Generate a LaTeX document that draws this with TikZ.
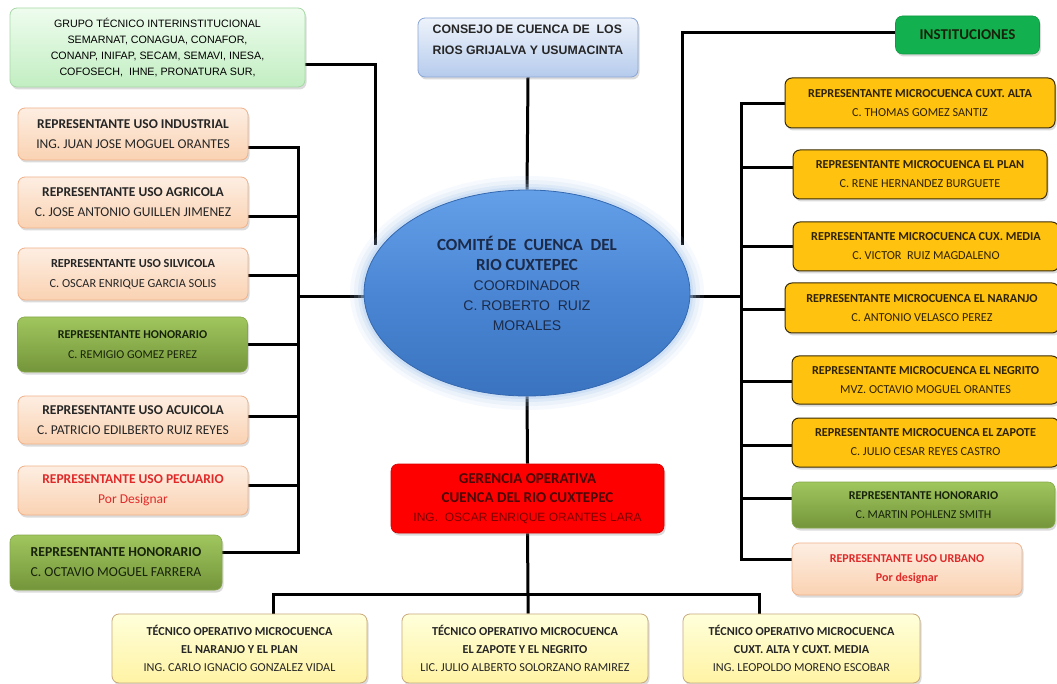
\documentclass[tikz,border=0pt]{standalone}
\usepackage{fontspec}
\setmainfont{Carlito}
\newfontfamily\arial{Liberation Sans}
\usetikzlibrary{shadows,shapes.geometric,calc}
\pgfdeclarelayer{back}
\pgfdeclarelayer{bg}
\pgfsetlayers{back,bg,main}
\definecolor{peachT}{HTML}{FDEEE2}
\definecolor{peachB}{HTML}{FAD2B2}
\definecolor{peachD}{HTML}{F0B28A}
\definecolor{yel}{HTML}{FFC20E}
\definecolor{yelD}{HTML}{3A2C05}
\definecolor{yelTx}{HTML}{2E2306}
\definecolor{olT}{HTML}{A0C65E}
\definecolor{olB}{HTML}{74953A}
\definecolor{olD}{HTML}{86A84A}
\definecolor{olTx}{HTML}{17230A}
\definecolor{instG}{HTML}{12B04E}
\definecolor{instD}{HTML}{0E9A42}
\definecolor{grT}{HTML}{EEFCEE}
\definecolor{grB}{HTML}{C2EEC2}
\definecolor{grD}{HTML}{A8D8A8}
\definecolor{blT}{HTML}{EEF3FB}
\definecolor{blB}{HTML}{B5CBEC}
\definecolor{blD}{HTML}{8AA6D6}
\definecolor{lyT}{HTML}{FFFFDA}
\definecolor{lyB}{HTML}{FFF3A4}
\definecolor{lyD}{HTML}{C9A97C}
\definecolor{redTx}{HTML}{E02A2A}
\definecolor{txt}{HTML}{262626}
\definecolor{ellT}{HTML}{64A0E8}
\definecolor{ellM}{HTML}{4A86D4}
\definecolor{ellB}{HTML}{3A74C0}
\definecolor{ellD}{HTML}{3468B0}
\definecolor{ellG}{HTML}{A9C8EE}
\definecolor{ellTx}{HTML}{1C2B4A}
\definecolor{gerTx}{HTML}{4A0808}
\definecolor{gerTx2}{HTML}{7A0000}
\newcommand\ellA{\bfseries\fontsize{17}{20}\selectfont}
\newcommand\ellB{\arial\fontsize{14}{20}\selectfont}
\newcommand\gerA{\bfseries\fontsize{15}{19}\selectfont}
\newcommand\gerB{\arial\fontsize{12}{19}\selectfont\color{gerTx2}}
\begin{document}
\begin{tikzpicture}[x=1pt,y=-1pt,
  conn/.style={line width=3pt,black,line join=miter},
  box/.style={rounded corners=7pt,inner sep=0pt,align=center,
    drop shadow={shadow xshift=1.5pt,shadow yshift=-2.5pt,opacity=0.28}},
  peach/.style={box,top color=peachT,bottom color=peachB,draw=peachD,line width=0.8pt,
    text=txt,font=\fontsize{13.5}{20}\selectfont,minimum width=230pt},
  yellowbox/.style={box,fill=yel,draw=yelD,line width=1pt,text=yelTx,
    font=\fontsize{12.2}{19}\selectfont},
  olive/.style={box,top color=olT,bottom color=olB,draw=olD,line width=0.6pt,text=olTx},
  lightyel/.style={box,top color=lyT,bottom color=lyB,draw=lyD,line width=0.8pt,
    text=txt,font=\fontsize{12.2}{18}\selectfont,minimum height=69pt},
]
\begin{pgfonlayer}{back}
\fill[white] (0,0) rectangle (1057,684);
\end{pgfonlayer}
\useasboundingbox (0,0) rectangle (1057,684);

% ---------- top boxes
\node[box,top color=grT,bottom color=grB,draw=grD,line width=0.8pt,
  minimum width=295pt,minimum height=79pt,font=\arial\fontsize{10.7}{16}\selectfont]
  (grupo) at (157.5,47.5)
  {GRUPO TÉCNICO INTERINSTITUCIONAL\\SEMARNAT, CONAGUA, CONAFOR,\\
   CONANP, INIFAP, SECAM, SEMAVI, INESA,\\COFOSECH,\ \ IHNE, PRONATURA SUR,};
\node[box,top color=blT,bottom color=blB,draw=blD,line width=0.8pt,
  minimum width=220pt,minimum height=59pt,align=left,text=txt,
  font=\arial\bfseries\fontsize{12.3}{21}\selectfont]
  (cons) at (528,47.5) {CONSEJO DE CUENCA DE\ \ LOS\\RIOS GRIJALVA Y USUMACINTA\\[-6pt]\mbox{}};
\node[box,fill=instG,draw=instD,line width=0.6pt,minimum width=144pt,minimum height=38pt,
  text=olTx,font=\bfseries\fontsize{15}{16}\selectfont]
  (inst) at (967.5,35) {INSTITUCIONES};

% ---------- ellipse
\foreach \s/\op in {14/0.10,10/0.14,6/0.2,3/0.3}
  \fill[ellG,opacity=\op] (527,293) ellipse [x radius=163+\s,y radius=103+\s];
\node[ellipse,minimum width=326pt,minimum height=206pt,inner sep=0pt,
  top color=ellT,bottom color=ellB,middle color=ellM,draw=ellD,line width=0.8pt,
  align=center,text=ellTx,font=\fontsize{14}{20}\selectfont] (ell) at (527,293)
  {\ellA COMITÉ DE\ \ CUENCA\ \ DEL\\\ellA RIO CUXTEPEC\\\ellB COORDINADOR\\\ellB C. ROBERTO\ \ RUIZ\\\ellB MORALES\\[0pt]\mbox{}};

% ---------- left column
\node[peach,minimum height=52pt] (ind) at (133,134)
  {\textbf{REPRESENTANTE USO INDUSTRIAL}\\ING. JUAN JOSE MOGUEL ORANTES};
\node[peach,minimum height=51pt] (agr) at (133,202.5)
  {\textbf{REPRESENTANTE USO AGRICOLA}\\C. JOSE ANTONIO GUILLEN JIMENEZ};
\node[peach,minimum height=52pt,font=\fontsize{12.3}{20}\selectfont] (sil) at (133,274)
  {\textbf{REPRESENTANTE USO SILVICOLA}\\C. OSCAR ENRIQUE GARCIA SOLIS};
\node[olive,minimum width=230pt,minimum height=55pt,font=\fontsize{12}{20}\selectfont]
  (hon1) at (132.5,344.5)
  {\textbf{REPRESENTANTE HONORARIO}\\C. REMIGIO GOMEZ PEREZ};
\node[peach,minimum height=48pt] (acu) at (133,420)
  {\textbf{REPRESENTANTE USO ACUICOLA}\\C. PATRICIO EDILBERTO RUIZ REYES};
\node[peach,minimum height=49pt,text=redTx] (pec) at (133,490.5)
  {\textbf{REPRESENTANTE USO PECUARIO}\\Por Designar};
\node[olive,minimum width=212pt,minimum height=55pt,font=\fontsize{13.7}{20}\selectfont]
  (hon2) at (116,562.5)
  {\textbf{REPRESENTANTE HONORARIO}\\C. OCTAVIO MOGUEL FARRERA};

% ---------- right column
\node[yellowbox,minimum width=270pt,minimum height=50pt] (alta) at (920,103)
  {\textbf{REPRESENTANTE MICROCUENCA CUXT. ALTA}\\C. THOMAS GOMEZ SANTIZ};
\node[yellowbox,minimum width=254pt,minimum height=49pt] (plan) at (920,174.5)
  {\textbf{REPRESENTANTE MICROCUENCA EL PLAN}\\C. RENE HERNANDEZ BURGUETE};
\node[yellowbox,minimum width=266pt,minimum height=49pt] (media) at (926,246.5)
  {\textbf{REPRESENTANTE MICROCUENCA CUX. MEDIA}\\C. VICTOR\ \ RUIZ MAGDALENO};
\node[yellowbox,minimum width=274pt,minimum height=50pt] (nar) at (922,308)
  {\textbf{REPRESENTANTE MICROCUENCA EL NARANJO}\\C. ANTONIO VELASCO PEREZ};
\node[yellowbox,minimum width=267pt,minimum height=48pt] (neg) at (925.5,380)
  {\textbf{REPRESENTANTE MICROCUENCA EL NEGRITO}\\MVZ. OCTAVIO MOGUEL ORANTES};
\node[yellowbox,minimum width=267pt,minimum height=49pt] (zap) at (925.5,442.5)
  {\textbf{REPRESENTANTE MICROCUENCA EL ZAPOTE}\\C. JULIO CESAR REYES CASTRO};
\node[olive,minimum width=263pt,minimum height=46pt,font=\fontsize{12}{19}\selectfont]
  (hon3) at (923.5,505)
  {\textbf{REPRESENTANTE HONORARIO}\\C. MARTIN POHLENZ SMITH};
\node[box,top color=peachT,bottom color=peachB,draw=peachD,line width=0.8pt,
  minimum width=230pt,minimum height=52pt,text=redTx,font=\fontsize{12}{19}\selectfont]
  (urb) at (907,569)
  {\textbf{REPRESENTANTE USO URBANO}\\\textbf{Por designar}};

% ---------- gerencia
\node[box,fill=red,draw=red!85!black,line width=0.6pt,minimum width=273pt,minimum height=69pt,
  text=gerTx,font=\fontsize{14}{19}\selectfont] (ger) at (527.5,498.5)
  {\gerA GERENCIA OPERATIVA\\\gerA CUENCA DEL RIO CUXTEPEC\\\gerB ING.\ \ OSCAR ENRIQUE ORANTES LARA};

% ---------- bottom
\node[lightyel,minimum width=255pt] (b1) at (239.5,648.5)
  {\textbf{TÉCNICO OPERATIVO MICROCUENCA}\\\textbf{EL NARANJO Y EL PLAN}\\ING. CARLO IGNACIO GONZALEZ VIDAL};
\node[lightyel,minimum width=246pt] (b2) at (525,648.5)
  {\textbf{TÉCNICO OPERATIVO MICROCUENCA}\\\textbf{EL ZAPOTE Y EL NEGRITO}\\LIC. JULIO ALBERTO SOLORZANO RAMIREZ};
\node[lightyel,minimum width=237pt] (b3) at (801.5,648.5)
  {\textbf{TÉCNICO OPERATIVO MICROCUENCA}\\\textbf{CUXT. ALTA Y CUXT. MEDIA}\\ING. LEOPOLDO MORENO ESCOBAR};

% ---------- connectors
\coordinate (lt1) at (298,148);
\coordinate (lt2) at (298,217);
\coordinate (lt3) at (298,276);
\coordinate (ltE) at (298,297);
\coordinate (lt4) at (298,345);
\coordinate (lt5) at (298,416);
\coordinate (lt6) at (298,485);
\coordinate (lt7) at (298,552);
\coordinate (rt1) at (741,104);
\coordinate (rt2) at (741,168);
\coordinate (rt3) at (741,247);
\coordinate (rtE) at (741,297);
\coordinate (rt4) at (741,310);
\coordinate (rt5) at (741,381);
\coordinate (rt6) at (741,445);
\coordinate (rt7) at (741,498);
\coordinate (rt8) at (741,559);
\coordinate (g1) at (375,65);
\coordinate (g2) at (375,245);
\coordinate (i1) at (682,33);
\coordinate (i2) at (682,245);
\coordinate (bl) at (273,594);
\coordinate (bm) at (528,594);
\coordinate (br) at (759,594);
\begin{pgfonlayer}{bg}
\draw[conn] (ind.east |- lt1) -- (lt1) -- (lt7) -- (hon2.east |- lt7);
\draw[conn] (agr.east |- lt2) -- (lt2);
\draw[conn] (sil.east |- lt3) -- (lt3);
\draw[conn] (hon1.east |- lt4) -- (lt4);
\draw[conn] (acu.east |- lt5) -- (lt5);
\draw[conn] (pec.east |- lt6) -- (lt6);
\draw[conn] (ltE) -- (ell.west |- ltE);
\draw[conn] (alta.west |- rt1) -- (rt1) -- (rt8) -- (urb.west |- rt8);
\draw[conn] (plan.west |- rt2) -- (rt2);
\draw[conn] (media.west |- rt3) -- (rt3);
\draw[conn] (nar.west |- rt4) -- (rt4);
\draw[conn] (neg.west |- rt5) -- (rt5);
\draw[conn] (zap.west |- rt6) -- (rt6);
\draw[conn] (hon3.west |- rt7) -- (rt7);
\draw[conn] (rtE) -- (ell.east |- rtE);
\draw[conn] (grupo.east |- g1) -- (g1) -- (g2);
\draw[conn] (inst.west |- i1) -- (i1) -- (i2);
\draw[conn] (cons.south) -- (ell.north);
\draw[conn] (ell.south) -- (ger.north);
\draw[conn] (ger.south) -- (bm) -- (b2.north -| bm);
\draw[conn] (b1.north -| bl) -- (bl) -- (br) -- (b3.north -| br);
\end{pgfonlayer}
\end{tikzpicture}
\end{document}
